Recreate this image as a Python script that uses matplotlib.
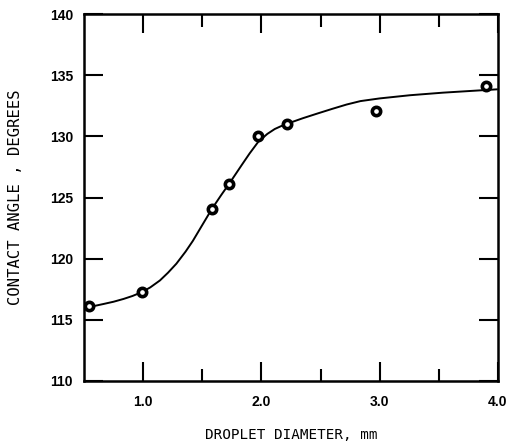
import numpy as np
import matplotlib.pyplot as plt
from matplotlib.ticker import MultipleLocator, FixedLocator

plt.rcParams['font.family'] = ['DejaVu Sans Mono', 'DejaVu Sans']

# measured points
diam = [0.54, 0.99, 1.58, 1.73, 1.975, 2.22, 2.97, 3.9]
angle = [116.1, 117.25, 124.05, 126.1, 130.05, 131.0, 132.1, 134.15]

# smooth fitted curve
curve_x = [0.53, 0.6, 0.667, 0.75, 0.835, 0.91, 0.988, 1.06, 1.142, 1.21,
           1.281, 1.359, 1.42, 1.5, 1.582, 1.66, 1.736, 1.833, 1.9, 1.973,
           2.05, 2.113, 2.17, 2.238, 2.35, 2.475, 2.6, 2.72, 2.837, 3.0,
           3.256, 3.535, 3.87, 3.99]
curve_y = [116.05, 116.16, 116.3, 116.48, 116.71, 116.95, 117.26, 117.65,
           118.22, 118.85, 119.59, 120.58, 121.45, 122.75, 124.08, 125.2,
           126.25, 127.65, 128.6, 129.55, 130.2, 130.6, 130.85, 131.1,
           131.48, 131.87, 132.25, 132.6, 132.88, 133.1, 133.36, 133.57,
           133.77, 133.84]

fig = plt.figure(figsize=[5.08, 4.42], dpi=100)
ax = fig.add_axes([84/508, 1 - 381/442, 414/508, 367/442])

ax.plot(curve_x, curve_y, c='k', lw=1.4, zorder=2)
ax.plot(diam, angle, 'o', ms=6, mfc='white', mec='k', mew=2.6, zorder=3)

ax.set_xlim(0.5, 4.0)
ax.set_ylim(110, 140)
ax.xaxis.set_major_locator(FixedLocator([1.0, 2.0, 3.0, 4.0]))
ax.xaxis.set_minor_locator(FixedLocator([1.5, 2.5, 3.5]))
ax.yaxis.set_major_locator(MultipleLocator(5))
ax.set_xticklabels(['1.0', '2.0', '3.0', '4.0'])

ax.tick_params(which='major', direction='in', length=14, width=1.5,
               top=True, right=True)
ax.tick_params(axis='x', which='major', pad=10)
ax.tick_params(axis='y', which='major', pad=8)
ax.tick_params(which='minor', direction='in', length=9, width=1.5,
               top=True, right=False)
for lab in ax.get_xticklabels() + ax.get_yticklabels():
    lab.set_family('Liberation Sans')
    lab.set_fontweight('bold')
    lab.set_fontsize(10)
for s in ax.spines.values():
    s.set_linewidth(1.8)

ax.set_xlabel("DROPLET DIAMETER, mm", fontsize=10.3, labelpad=14)
ax.set_ylabel("CONTACT ANGLE , DEGREES", fontsize=11.2, labelpad=19)

fig.savefig("out.png", dpi=100)
